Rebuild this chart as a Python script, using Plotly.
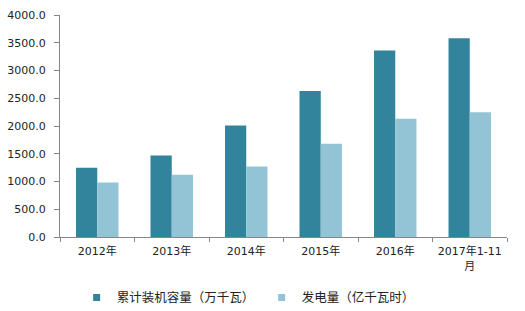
import plotly.graph_objects as go

categories = ["2012年", "2013年", "2014年", "2015年", "2016年", "2017年1-11<br>月"]
capacity = [1250, 1470, 2010, 2630, 3360, 3580]
generation = [980, 1120, 1270, 1680, 2130, 2250]
series_names = ["累计装机容量（万千瓦）", "发电量（亿千瓦时）"]
series_colors = ["#31849B", "#93C4D5"]

font_family = "DejaVu Sans, Noto Sans CJK SC, sans-serif"

fig = go.Figure()
for vals, name, color in zip([capacity, generation], series_names, series_colors):
    fig.add_trace(go.Bar(x=categories, y=vals, name=name, showlegend=False,
                         marker=dict(color=color, line=dict(width=0))))
# legend proxies with small square markers
for name, color in zip(series_names, series_colors):
    fig.add_trace(go.Scatter(x=[None], y=[None], mode="markers", name=name,
                             marker=dict(symbol="square", size=7, color=color),
                             showlegend=True, hoverinfo="skip"))

fig.update_layout(
    width=525, height=311,
    margin=dict(l=60, r=18, t=15, b=74),
    paper_bgcolor="white", plot_bgcolor="white",
    barmode="group", bargap=0.43, bargroupgap=0,
    font=dict(family=font_family, size=11, color="#222222"),
    showlegend=True,
    legend=dict(orientation="h", xref="container", yref="container",
                x=0.146, xanchor="left", y=0.042, yanchor="middle",
                font=dict(family="Noto Sans CJK SC, sans-serif", size=12.5, color="#222222"),
                itemwidth=30, entrywidth=140, entrywidthmode="pixels",
                traceorder="normal", bgcolor="rgba(0,0,0,0)"),
)
fig.update_xaxes(
    showline=True, linecolor="#868686", linewidth=1,
    ticks="outside", ticklen=4, tickcolor="#868686", tickson="boundaries",
    showgrid=False, tickfont=dict(size=11), automargin=False, ticklabelstandoff=4,
)
fig.update_yaxes(
    range=[0, 4000], dtick=500, tickformat=".1f",
    showline=True, linecolor="#868686", linewidth=1,
    ticks="outside", ticklen=5, tickcolor="#868686",
    showgrid=False, zeroline=False, tickfont=dict(size=11), automargin=False,
    ticklabelstandoff=6,
)

fig.write_html("out.html")
